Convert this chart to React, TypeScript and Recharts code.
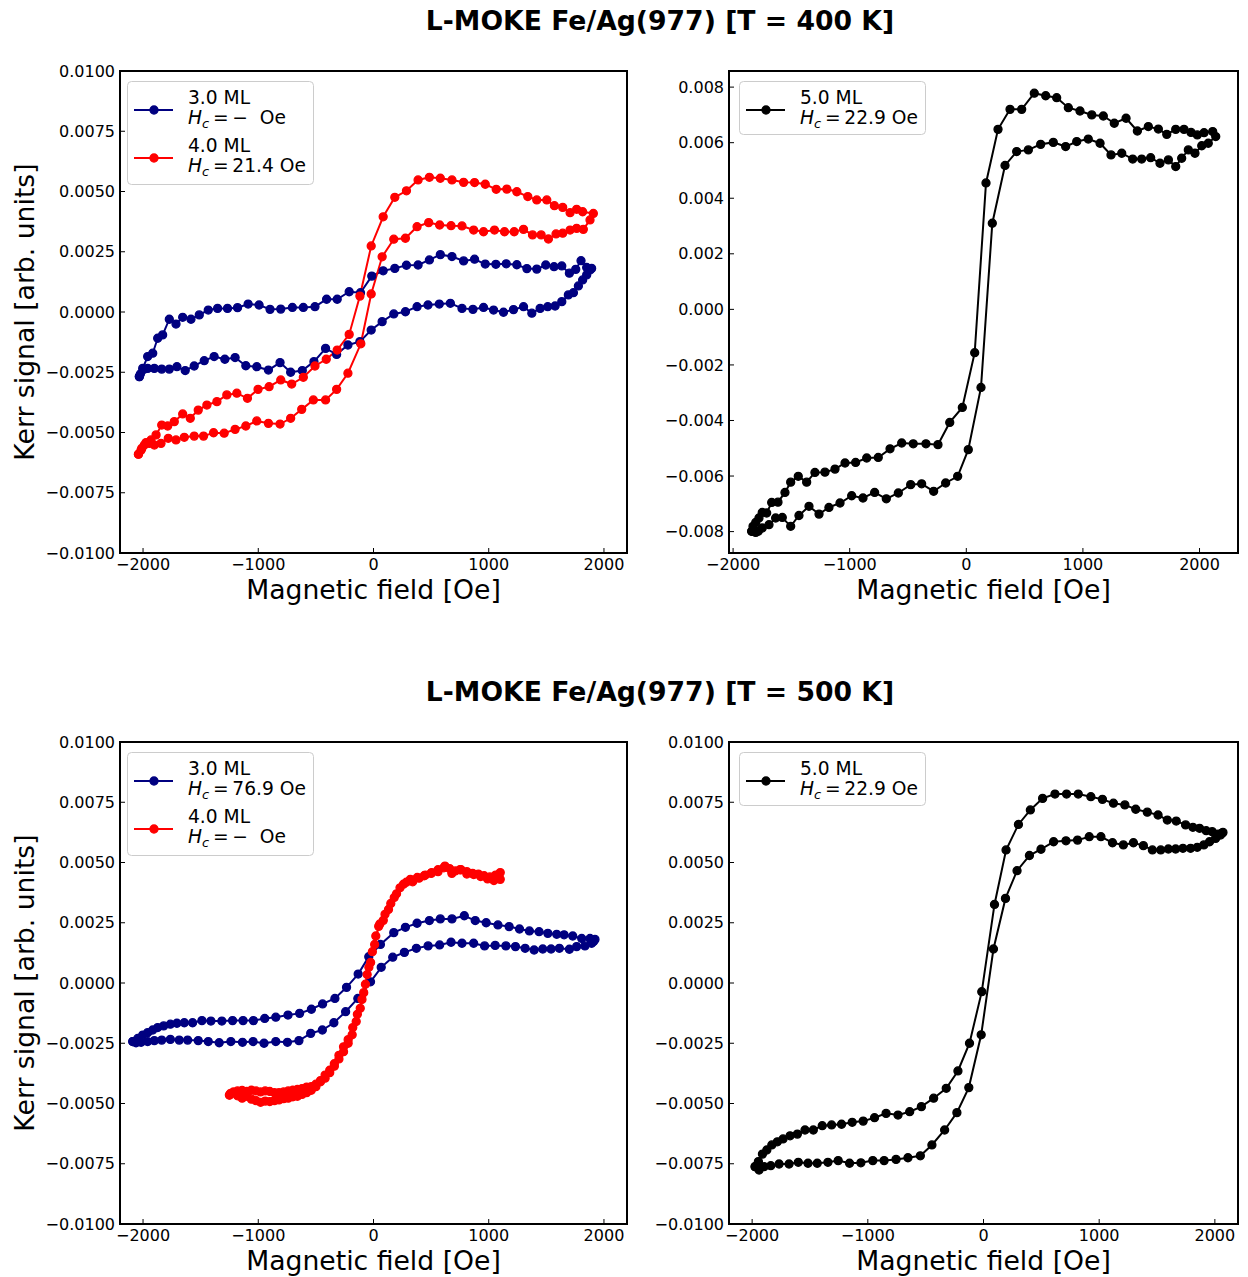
import React from 'react';
import { LineChart, Line, XAxis, YAxis } from 'recharts';

type Pt = [number, number];

// ---------- T = 400 K ----------
// 3.0 ML loop (upper branch left->right, then lower branch right->left)
const loop400_3ML: Pt[] = [
  [-2032, -0.00268], [-2003, -0.00234], [-1960, -0.00185], [-1916, -0.00171], [-1873, -0.00109], [-1830, -0.00095],
  [-1772, -0.0003], [-1714, -0.0005], [-1656, -0.00022], [-1584, -0.0003], [-1512, -0.00012], [-1434, 0.00008],
  [-1353, 0.00015], [-1267, 0.00015], [-1180, 0.00018], [-1088, 0.00033], [-993, 0.00029], [-898, 0.00011],
  [-805, 0.00012], [-704, 0.00019], [-609, 0.00019], [-508, 0.00022], [-407, 0.00053], [-315, 0.00053],
  [-211, 0.00084], [-113, 0.0008], [-15, 0.00149], [84, 0.00171], [185, 0.00181], [286, 0.00194], [387, 0.00195],
  [485, 0.00216], [580, 0.00238], [681, 0.0023], [782, 0.00212], [877, 0.00219], [970, 0.00199], [1062, 0.00198],
  [1152, 0.002], [1244, 0.00196], [1331, 0.0018], [1417, 0.00178], [1495, 0.00195], [1567, 0.00188], [1634, 0.00191],
  [1700, 0.00161], [1755, 0.00177], [1801, 0.00213], [1850, 0.00185], [1893, 0.00181],
  [1879, 0.00174], [1850, 0.00154], [1815, 0.00133], [1778, 0.00108], [1735, 0.0008], [1691, 0.00071], [1634, 0.00043],
  [1576, 0.00025], [1512, 0.00022], [1446, 0.00015], [1374, -0.00005], [1302, 0.00022], [1215, 0.0001], [1128, -0.00001],
  [1042, 0.00008], [955, 0.00019], [863, 0.00011], [768, 0.00015], [667, 0.00036], [571, 0.00033], [473, 0.00029],
  [378, 0.00022], [277, 0.00001], [176, -0.00008], [75, -0.0004], [-20, -0.00075], [-118, -0.00123], [-222, -0.00137],
  [-320, -0.00176], [-416, -0.00151], [-517, -0.00206], [-618, -0.00243], [-719, -0.0025], [-811, -0.0021],
  [-912, -0.00241], [-1013, -0.00227], [-1108, -0.00223], [-1201, -0.00189], [-1290, -0.00196], [-1383, -0.00185],
  [-1469, -0.00202], [-1556, -0.00224], [-1634, -0.00243], [-1706, -0.00227], [-1772, -0.00237], [-1838, -0.00237],
  [-1902, -0.00234], [-1960, -0.00234], [-1994, -0.00238], [-2023, -0.00257], [-2032, -0.00268],
];

// 4.0 ML loop
const loop400_4ML: Pt[] = [
  [-2040, -0.0059], [-2011, -0.00566], [-1974, -0.00542], [-1931, -0.00531], [-1887, -0.0051], [-1838, -0.00469],
  [-1786, -0.00473], [-1729, -0.00455], [-1656, -0.00423], [-1590, -0.00441], [-1521, -0.00407], [-1446, -0.00386],
  [-1359, -0.00372], [-1273, -0.00344], [-1186, -0.00337], [-1094, -0.00358], [-1002, -0.00321], [-906, -0.0031],
  [-805, -0.00282], [-710, -0.00299], [-609, -0.00271], [-508, -0.00224], [-410, -0.00196], [-315, -0.00158],
  [-211, -0.00093], [-118, 0.00066], [-20, 0.00274], [84, 0.00395], [185, 0.00476], [286, 0.00503], [387, 0.00548],
  [485, 0.00559], [580, 0.00555], [681, 0.00548], [782, 0.00538], [877, 0.00537], [970, 0.0053], [1065, 0.00509],
  [1157, 0.0051], [1244, 0.00499], [1339, 0.00479], [1417, 0.00465], [1504, 0.00465], [1570, 0.00441], [1642, 0.00434],
  [1706, 0.00412], [1763, 0.00426], [1815, 0.00416], [1908, 0.00409], [1879, 0.00382],
  [1821, 0.00343], [1763, 0.00347], [1706, 0.0034], [1642, 0.00327], [1584, 0.00324], [1518, 0.00303], [1455, 0.0032],
  [1380, 0.0032], [1302, 0.00343], [1221, 0.00333], [1137, 0.00333], [1050, 0.0034], [955, 0.00333], [869, 0.0034],
  [768, 0.00357], [673, 0.00358], [574, 0.00361], [479, 0.00371], [378, 0.00354], [277, 0.00306], [176, 0.00302],
  [75, 0.00229], [-20, 0.00075], [-110, -0.00132], [-222, -0.00254], [-320, -0.00321], [-416, -0.00365], [-522, -0.00365],
  [-623, -0.00404], [-719, -0.00441], [-811, -0.00465], [-912, -0.00462], [-1013, -0.00452], [-1108, -0.00473],
  [-1201, -0.00487], [-1296, -0.00503], [-1388, -0.00501], [-1475, -0.00515], [-1556, -0.00515], [-1642, -0.0052],
  [-1714, -0.00531], [-1781, -0.00524], [-1844, -0.00545], [-1902, -0.00552], [-1946, -0.00545], [-1989, -0.00552],
  [-2017, -0.00573], [-2040, -0.0059],
];

// 5.0 ML loop (ascending branch, then descending branch)
const loop400_5ML: Pt[] = [
  [-1840, -0.00799], [-1806, -0.00803], [-1784, -0.00799], [-1750, -0.00787], [-1692, -0.00775], [-1635, -0.00751],
  [-1578, -0.00749], [-1506, -0.00781], [-1435, -0.00742], [-1349, -0.00709], [-1263, -0.00737], [-1178, -0.00713],
  [-1083, -0.00697], [-983, -0.00671], [-886, -0.00679], [-786, -0.00659], [-686, -0.00682], [-583, -0.00661],
  [-477, -0.00631], [-383, -0.00628], [-280, -0.00655], [-177, -0.00625], [-74, -0.00601], [17, -0.00505],
  [126, -0.00281], [223, 0.0031], [332, 0.00518], [432, 0.00568], [532, 0.00574], [638, 0.00594], [746, 0.00601],
  [852, 0.00586], [947, 0.00604], [1046, 0.00613], [1147, 0.00598], [1241, 0.00556], [1333, 0.00562], [1427, 0.00541],
  [1504, 0.00541], [1581, 0.00546], [1661, 0.00526], [1733, 0.00538], [1796, 0.00514], [1847, 0.00544], [1904, 0.00574],
  [1961, 0.00562], [2019, 0.00589], [2075, 0.00598], [2139, 0.00622],
  [2113, 0.0064], [2039, 0.00636], [1981, 0.00628], [1927, 0.00637], [1867, 0.00648], [1796, 0.00648], [1719, 0.0063],
  [1647, 0.00649], [1561, 0.00658], [1467, 0.00642], [1370, 0.00688], [1269, 0.0067], [1175, 0.00696], [1076, 0.007],
  [975, 0.00714], [875, 0.00726], [775, 0.00762], [681, 0.00769], [583, 0.00778], [475, 0.0072], [375, 0.0072],
  [272, 0.00648], [169, 0.00455], [72, -0.00156], [-34, -0.00353], [-142, -0.00407], [-243, -0.00487], [-346, -0.00484],
  [-455, -0.00484], [-554, -0.00481], [-654, -0.00502], [-755, -0.00533], [-854, -0.00535], [-949, -0.00551],
  [-1040, -0.00553], [-1126, -0.00575], [-1212, -0.00586], [-1298, -0.00587], [-1369, -0.00622], [-1441, -0.00601],
  [-1506, -0.00622], [-1555, -0.00659], [-1615, -0.00694], [-1669, -0.00695], [-1712, -0.00733], [-1750, -0.00731],
  [-1778, -0.00751], [-1806, -0.00767], [-1829, -0.00781], [-1840, -0.00799],
];

// ---------- T = 500 K ----------
const loop500_3ML: Pt[] = [
  [-2089, -0.00243], [-2046, -0.0023], [-2003, -0.00216], [-1960, -0.00206], [-1916, -0.00195], [-1873, -0.00185],
  [-1821, -0.00178], [-1763, -0.00171], [-1706, -0.00167], [-1642, -0.00165], [-1570, -0.00165], [-1489, -0.00156],
  [-1411, -0.00158], [-1316, -0.00158], [-1223, -0.00156], [-1132, -0.00156], [-1042, -0.00156], [-944, -0.00147],
  [-848, -0.00142], [-742, -0.00133], [-641, -0.00126], [-539, -0.00109], [-442, -0.00087], [-335, -0.00064],
  [-234, -0.00018], [-133, 0.00037], [-41, 0.00109], [60, 0.0016], [176, 0.00209], [277, 0.00231], [378, 0.00248],
  [485, 0.00259], [580, 0.00266], [681, 0.00266], [788, 0.00279], [883, 0.00259], [978, 0.0025], [1080, 0.00241],
  [1177, 0.00234], [1267, 0.00224], [1353, 0.00216], [1437, 0.00213], [1513, 0.00206], [1590, 0.00202], [1654, 0.002],
  [1729, 0.00195], [1807, 0.00185], [1879, 0.00185], [1922, 0.00181], [1910, 0.00172],
  [1893, 0.00165], [1835, 0.00154], [1763, 0.00151], [1700, 0.0014], [1613, 0.00144], [1541, 0.00141], [1469, 0.00141],
  [1394, 0.00137], [1316, 0.00144], [1232, 0.00151], [1149, 0.00154], [1056, 0.00156], [964, 0.00154], [869, 0.00165],
  [768, 0.00165], [673, 0.00169], [574, 0.00158], [474, 0.00154], [372, 0.00144], [268, 0.00127], [167, 0.00107],
  [67, 0.00065], [-26, 0.00005], [-136, -0.00064], [-242, -0.00119], [-344, -0.00165], [-444, -0.00195], [-545, -0.00209],
  [-647, -0.00239], [-747, -0.00246], [-848, -0.00243], [-950, -0.0025], [-1045, -0.00243], [-1137, -0.00246],
  [-1238, -0.00243], [-1339, -0.00248], [-1434, -0.00243], [-1521, -0.00239], [-1613, -0.00237], [-1686, -0.00237],
  [-1763, -0.00234], [-1838, -0.00237], [-1902, -0.00239], [-1960, -0.00243], [-2017, -0.00246], [-2061, -0.00248],
  [-2089, -0.00243],
];

const loop500_4ML: Pt[] = [
  [-1250, -0.00465], [-1215, -0.00455], [-1180, -0.00468], [-1140, -0.00478], [-1100, -0.0047], [-1060, -0.00482],
  [-1020, -0.00488], [-980, -0.00495], [-940, -0.0049], [-900, -0.00492], [-860, -0.00488], [-820, -0.00485],
  [-780, -0.0048], [-740, -0.00478], [-700, -0.00472], [-660, -0.0047], [-620, -0.00462], [-580, -0.00455],
  [-540, -0.00445], [-500, -0.0043], [-460, -0.00405], [-420, -0.00382], [-380, -0.00362], [-340, -0.00335],
  [-300, -0.003], [-260, -0.00265], [-220, -0.00235], [-180, -0.00185], [-140, -0.0013], [-100, -0.00068],
  [-70, -0.00005], [-40, 0.00065], [-10, 0.0013], [20, 0.00195], [55, 0.00245], [100, 0.00285], [150, 0.0033],
  [200, 0.0037], [260, 0.0041], [320, 0.0043], [380, 0.00438], [440, 0.00445], [500, 0.00455], [560, 0.0047],
  [620, 0.00485], [680, 0.00455], [750, 0.0047], [810, 0.00452], [870, 0.0045], [930, 0.00442], [990, 0.00432],
  [1045, 0.00425], [1100, 0.0043],
  [1100, 0.00458], [1060, 0.00448], [1010, 0.0044], [960, 0.00445], [910, 0.00452], [860, 0.00455], [810, 0.00462],
  [760, 0.0047], [710, 0.00465], [660, 0.00475], [610, 0.00478], [560, 0.00462], [505, 0.00458], [450, 0.00448],
  [395, 0.00435], [340, 0.0042], [285, 0.00418], [230, 0.00395], [180, 0.00355], [130, 0.00305], [85, 0.0026],
  [45, 0.00235], [10, 0.0016], [-25, 0.00085], [-55, 0.00035], [-85, -0.0004], [-115, -0.00105], [-150, -0.0016],
  [-185, -0.00215], [-220, -0.0025], [-260, -0.00285], [-300, -0.00315], [-340, -0.00345], [-380, -0.00372],
  [-420, -0.00395], [-460, -0.0041], [-500, -0.0042], [-540, -0.0043], [-580, -0.00432], [-620, -0.00438],
  [-660, -0.00442], [-700, -0.00445], [-740, -0.00448], [-780, -0.00452], [-820, -0.00455], [-860, -0.00455],
  [-900, -0.0045], [-940, -0.00448], [-980, -0.00452], [-1020, -0.00448], [-1060, -0.00445], [-1100, -0.0045],
  [-1140, -0.00446], [-1180, -0.00448], [-1215, -0.00452], [-1240, -0.00458], [-1250, -0.00465],
];

const loop500_5ML: Pt[] = [
  [-1974, -0.00762], [-1940, -0.00776], [-1897, -0.00762], [-1839, -0.00758], [-1767, -0.00751], [-1681, -0.00751],
  [-1601, -0.00744], [-1517, -0.00748], [-1437, -0.00748], [-1345, -0.00744], [-1256, -0.00737], [-1158, -0.00748],
  [-1060, -0.00746], [-957, -0.00737], [-859, -0.00737], [-756, -0.00732], [-653, -0.00725], [-546, -0.00717],
  [-446, -0.00672], [-336, -0.0061], [-230, -0.00538], [-127, -0.00434], [-20, -0.00215], [86, 0.00141], [190, 0.00351],
  [290, 0.00466], [397, 0.00529], [497, 0.00555], [606, 0.00586], [713, 0.0059], [813, 0.00593], [914, 0.00607],
  [1015, 0.00607], [1115, 0.00582], [1209, 0.00573], [1296, 0.00582], [1382, 0.0057], [1460, 0.00552], [1532, 0.00552],
  [1598, 0.00556], [1661, 0.00556], [1724, 0.00559], [1790, 0.00559], [1848, 0.00563], [1905, 0.00573], [1954, 0.00586],
  [2006, 0.006], [2049, 0.00614], [2070, 0.00625],
  [2063, 0.00622], [2029, 0.00618], [1977, 0.00628], [1925, 0.00632], [1868, 0.00642], [1810, 0.00646], [1747, 0.00656],
  [1666, 0.00672], [1589, 0.00676], [1509, 0.00697], [1416, 0.00709], [1316, 0.00721], [1222, 0.00739], [1123, 0.00746],
  [1028, 0.00762], [928, 0.00773], [819, 0.00784], [718, 0.00784], [618, 0.00784], [511, 0.00766], [405, 0.00718],
  [302, 0.00658], [195, 0.00552], [95, 0.00326], [-15, -0.00036], [-121, -0.0025], [-221, -0.00365], [-322, -0.00437],
  [-431, -0.00478], [-537, -0.00513], [-638, -0.00534], [-739, -0.00548], [-842, -0.00541], [-942, -0.00559],
  [-1040, -0.00573], [-1135, -0.00578], [-1227, -0.00586], [-1313, -0.00589], [-1394, -0.00592], [-1471, -0.0061],
  [-1543, -0.0061], [-1609, -0.00627], [-1672, -0.00634], [-1733, -0.00647], [-1782, -0.00659], [-1830, -0.00672],
  [-1873, -0.00693], [-1911, -0.0071], [-1946, -0.00741], [-1974, -0.00762],
];

// ---------- axis ticks ----------
const fieldTicks = [-2000, -1000, 0, 1000, 2000];
const kerrTicksWide = [-0.01, -0.0075, -0.005, -0.0025, 0, 0.0025, 0.005, 0.0075, 0.01];
const kerrTicksNarrow = [-0.008, -0.006, -0.004, -0.002, 0, 0.002, 0.004, 0.006, 0.008];

const titles = ['L-MOKE Fe/Ag(977) [T = 400 K]', 'L-MOKE Fe/Ag(977) [T = 500 K]'];
const xLabel = 'Magnetic field [Oe]';
const yLabel = 'Kerr signal [arb. units]';

const NAVY = '#000080';
const RED = '#ff0000';
const BLACK = '#000000';
const FONT = 'DejaVu Sans, sans-serif';

interface Series { data: Pt[]; color: string; label: string; hc: string }

interface PanelSpec {
  left: number; top: number; width: number; height: number;
  xDomain: [number, number];
  yDomain: [number, number];
  yTicks: number[];
  yDigits: number;
  series: Series[];
  yTitle: boolean;
  legendInset: number;
}

const ROW2 = 671;

const panels: PanelSpec[] = [
  {
    left: 120, top: 71, width: 507, height: 482, xDomain: [-2200, 2200], yDomain: [-0.01, 0.01],
    yTicks: kerrTicksWide, yDigits: 4, yTitle: true, legendInset: 7,
    series: [
      { data: loop400_3ML, color: NAVY, label: '3.0 ML', hc: '\u2212  ' },
      { data: loop400_4ML, color: RED, label: '4.0 ML', hc: '21.4 ' },
    ],
  },
  {
    left: 729, top: 71, width: 509, height: 482, xDomain: [-2035, 2330], yDomain: [-0.00877, 0.00858],
    yTicks: kerrTicksNarrow, yDigits: 3, yTitle: false, legendInset: 10,
    series: [{ data: loop400_5ML, color: BLACK, label: '5.0 ML', hc: '22.9 ' }],
  },
  {
    left: 120, top: 71 + ROW2, width: 507, height: 482, xDomain: [-2200, 2200], yDomain: [-0.01, 0.01],
    yTicks: kerrTicksWide, yDigits: 4, yTitle: true, legendInset: 7,
    series: [
      { data: loop500_3ML, color: NAVY, label: '3.0 ML', hc: '76.9 ' },
      { data: loop500_4ML, color: RED, label: '4.0 ML', hc: '\u2212  ' },
    ],
  },
  {
    left: 729, top: 71 + ROW2, width: 509, height: 482, xDomain: [-2200, 2200], yDomain: [-0.01, 0.01],
    yTicks: kerrTicksWide, yDigits: 4, yTitle: false, legendInset: 10,
    series: [{ data: loop500_5ML, color: BLACK, label: '5.0 ML', hc: '22.9 ' }],
  },
];

const signed = (v: number, s: string) => (v < -1e-12 ? '\u2212' : '') + s;

const ML = 30, YW = 70, MT = 10, MR = 10, XH = 60;

function Panel({ p }: { p: PanelSpec }) {
  const w = p.width + ML + YW + MR;
  const h = p.height + MT + XH;
  const tickStyle = { fill: '#000', fontSize: 16, fontFamily: FONT };
  return (
    <div style={{ position: 'absolute', left: p.left - ML - YW, top: p.top - MT }}>
      <LineChart width={w} height={h} margin={{ top: MT, right: MR, left: ML, bottom: 0 }}>
        <XAxis
          type="number" dataKey="x" domain={p.xDomain} ticks={fieldTicks} allowDataOverflow interval={0}
          tickFormatter={(v: number) => signed(v, String(Math.abs(v)))}
          tickSize={-5} tickMargin={11} axisLine={false} tickLine={{ stroke: '#000', strokeWidth: 1 }}
          tick={tickStyle} height={XH}
        />
        <YAxis
          type="number" domain={p.yDomain} ticks={p.yTicks} allowDataOverflow interval={0}
          tickFormatter={(v: number) => signed(v, Math.abs(v).toFixed(p.yDigits))}
          tickSize={-5} tickMargin={10} axisLine={false} tickLine={{ stroke: '#000', strokeWidth: 1 }}
          tick={tickStyle} width={YW}
        />
        {p.series.map((s) => (
          <Line
            key={s.label}
            data={s.data.map(([x, y]) => ({ x, y }))}
            dataKey="y" type="linear" stroke={s.color} strokeWidth={2}
            dot={{ r: 4, fill: s.color, stroke: s.color, strokeWidth: 1.3 }}
            isAnimationActive={false}
          />
        ))}
      </LineChart>
    </div>
  );
}

function LegendBox({ p }: { p: PanelSpec }) {
  const bx = p.left + p.legendInset;
  const by = p.top + 10;
  const bw = 186;
  const bh = p.series.length === 1 ? 53 : 103;
  return (
    <g>
      <rect x={bx + 0.5} y={by + 0.5} width={bw} height={bh} rx={4}
        fill="#fff" fillOpacity={0.8} stroke="#cccccc" strokeWidth={1} />
      {p.series.map((s, i) => {
        const cy = by + 29 + i * 48;
        const tx = bx + 61;
        return (
          <g key={s.label}>
            <line x1={bx + 7} x2={bx + 46} y1={cy} y2={cy} stroke={s.color} strokeWidth={2} />
            <circle cx={bx + 27} cy={cy} r={4} fill={s.color} stroke={s.color} strokeWidth={1.3} />
            <text x={tx} y={cy - 6.5} fontSize={18.67} fontFamily={FONT} fill="#000">{s.label}</text>
            <text x={tx} y={cy + 13.5} fontSize={18.67} fontFamily={FONT} fill="#000" style={{ whiteSpace: 'pre' }}>
              <tspan fontStyle="italic">H</tspan>
              <tspan fontStyle="italic" fontSize={13} dy={4}>c</tspan>
              <tspan dy={-4}>{'\u2009=\u2009' + s.hc + 'Oe'}</tspan>
            </text>
          </g>
        );
      })}
    </g>
  );
}

export default function App() {
  return (
    <div style={{ position: 'absolute', left: 0, top: 0, width: 1248, height: 1277, background: '#fff', overflow: 'hidden' }}>
      {panels.map((p, i) => <Panel key={i} p={p} />)}
      <svg width={1248} height={1277} style={{ position: 'absolute', left: 0, top: 0, pointerEvents: 'none' }}>
        {titles.map((t, i) => (
          <text key={t} x={660} y={30 + i * ROW2} textAnchor="middle" fontSize={26.67} fontWeight="bold" fontFamily={FONT} fill="#000">{t}</text>
        ))}
        {panels.map((p, i) => (
          <g key={i}>
            <rect x={p.left} y={p.top} width={p.width} height={p.height} fill="none" stroke="#000" strokeWidth={2} />
            <text x={p.left + p.width / 2} y={p.top + p.height + 46} textAnchor="middle" fontSize={26.67} fontFamily={FONT} fill="#000">{xLabel}</text>
            {p.yTitle ? (
              <text x={0} y={0} transform={`translate(${34}, ${p.top + p.height / 2}) rotate(-90)`} textAnchor="middle" fontSize={26.67} fontFamily={FONT} fill="#000">{yLabel}</text>
            ) : null}
            <LegendBox p={p} />
          </g>
        ))}
      </svg>
    </div>
  );
}
